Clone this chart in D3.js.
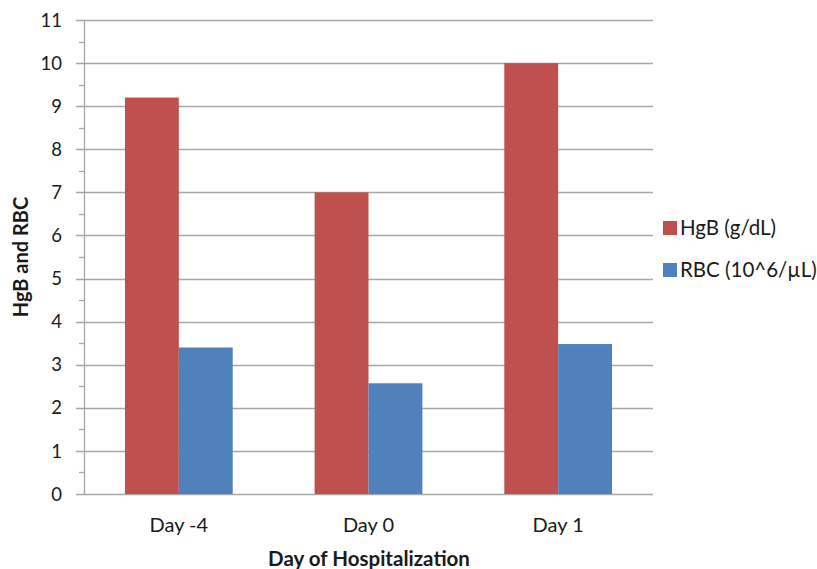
<!DOCTYPE html>
<html><head><meta charset="utf-8">
<script src="https://cdn.jsdelivr.net/npm/d3@7"></script>
<style>body{margin:0;background:#fff}svg{display:block}text{font-family:Lato,"Open Sans",sans-serif;fill:#1a1a1a}</style>
</head><body>
<script>
const categories = ["Day -4", "Day 0", "Day 1"];
const seriesNames = ["HgB (g/dL)", "RBC (10^6/\u00b5L)"];
const hgb = [9.2, 7.0, 10.0];
const rbc = [3.4, 2.57, 3.48];
const colors = ["#C0504D", "#4F81BD"];
const yTicks = [0,1,2,3,4,5,6,7,8,9,10,11];

(function(){
const W = 817, H = 569;
const svg = d3.select("body").append("svg").attr("width", W).attr("height", H);
const pLeft = 84, pRight = 653, pTop = 20, pBottom = 494;

const x = d3.scaleBand().domain(categories).range([pLeft, pRight]).padding(0);
const xs = d3.scaleBand().domain(seriesNames).range([0, x.bandwidth()]).paddingInner(0).paddingOuter(0.76);
const y = d3.scaleLinear().domain([0, 11]).range([pBottom, pTop]);

// gridlines
svg.append("g").selectAll("line").data(yTicks).join("line")
  .attr("x1", pLeft - 8).attr("x2", pRight)
  .attr("y1", d => Math.round(y(d)) + 0.5).attr("y2", d => Math.round(y(d)) + 0.5)
  .attr("stroke", "#a6a6a6").attr("stroke-width", 1.3);
// minor ticks
svg.append("g").selectAll("line").data(d3.range(0.5, 11, 1)).join("line")
  .attr("x1", pLeft - 5).attr("x2", pLeft)
  .attr("y1", d => Math.round(y(d)) + 0.5).attr("y2", d => Math.round(y(d)) + 0.5)
  .attr("stroke", "#a6a6a6").attr("stroke-width", 1.3);

// bars
const data = categories.map((c, i) => ({c, vals: [hgb[i], rbc[i]]}));
const g = svg.append("g").selectAll("g").data(data).join("g")
  .attr("transform", d => `translate(${x(d.c)},0)`);
g.selectAll("rect").data(d => d.vals.map((v, j) => ({name: seriesNames[j], v, j}))).join("rect")
  .attr("x", d => xs(d.name)).attr("width", xs.bandwidth())
  .attr("y", d => y(d.v)).attr("height", d => y(0) - y(d.v))
  .attr("fill", d => colors[d.j]);

// axis line
svg.append("line").attr("x1", pLeft + 0.5).attr("x2", pLeft + 0.5).attr("y1", pTop).attr("y2", pBottom)
  .attr("stroke", "#a6a6a6").attr("stroke-width", 1.3);

// y tick labels
svg.append("g").selectAll("text").data(yTicks).join("text")
  .attr("x", 62).attr("y", d => y(d)).attr("dy", "0.36em")
  .attr("text-anchor", "end").attr("font-size", 18.5).text(d => d);

// x tick labels
svg.append("g").selectAll("text").data(categories).join("text")
  .attr("x", d => x(d) + x.bandwidth() / 2).attr("y", 532)
  .attr("text-anchor", "middle").attr("font-size", 20).text(d => d);

// axis titles
svg.append("text").attr("x", 369).attr("y", 566).attr("text-anchor", "middle")
  .attr("font-size", 20.5).attr("font-weight", "bold").text("Day of Hospitalization");
svg.append("text").attr("transform", "translate(21,257) rotate(-90)").attr("text-anchor", "middle")
  .attr("dy", "0.36em").attr("font-size", 20).attr("font-weight", "bold").text("HgB and RBC");

// legend
const lg = svg.append("g").selectAll("g").data(seriesNames).join("g")
  .attr("transform", (d, i) => `translate(663,${221 + i * 42})`);
lg.append("rect").attr("width", 14).attr("height", 14).attr("fill", (d, i) => colors[i]);
lg.append("text").attr("x", 17).attr("y", 7).attr("dy", "0.36em").attr("font-size", 20.5).text(d => d);
})();
</script>
</body></html>
